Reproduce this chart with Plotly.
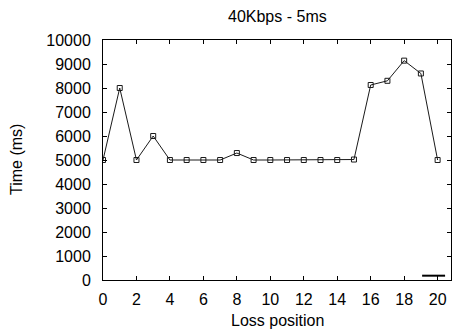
import plotly.graph_objects as go

loss_position = list(range(21))
time_ms = [5000, 8000, 5000, 6000, 5000, 5000, 5000, 5000, 5290, 5000, 5000,
           5000, 5000, 5000, 5000, 5020, 8125, 8300, 9140, 8605, 5000]

title_text = "40Kbps - 5ms"
x_title = "Loss position"
y_title = "Time (ms)"

FONT = "Liberation Sans, Arial, sans-serif"
FS = 16

fig = go.Figure()
fig.add_trace(go.Scatter(
    x=loss_position, y=time_ms, mode="lines+markers",
    line=dict(color="#1a1a1a", width=1),
    marker=dict(symbol="square-open", size=5, color="#1a1a1a", line=dict(width=1)),
    showlegend=False, hoverinfo="skip"))

axis_common = dict(
    showline=True, linecolor="black", linewidth=1, mirror="ticks",
    ticks="inside", ticklen=4, tickcolor="black", tickwidth=1,
    showgrid=False, zeroline=False,
    tickfont=dict(family=FONT, size=FS, color="black"),
)

fig.update_xaxes(range=[0, 20.8], tick0=0, dtick=2, ticklabelstandoff=5, **axis_common)
fig.update_yaxes(range=[0, 10000], tick0=0, dtick=1000, tickformat="d",
                 ticklabelstandoff=8, **axis_common)

# legend key sample (gnuplot style, empty title)
fig.add_shape(type="line", xref="paper", yref="paper",
              x0=0.917, x1=0.983, y0=0.018, y1=0.018,
              line=dict(color="black", width=2))

fig.add_annotation(text=title_text, xref="paper", yref="paper", x=0.5, y=1,
                   yshift=24, xanchor="center", yanchor="middle", showarrow=False,
                   font=dict(family=FONT, size=FS, color="black"))
fig.add_annotation(text=x_title, xref="paper", yref="paper", x=0.5, y=0,
                   yshift=-40, xanchor="center", yanchor="middle", showarrow=False,
                   font=dict(family=FONT, size=FS, color="black"))
fig.add_annotation(text=y_title, xref="paper", yref="paper", x=0, y=0.5,
                   xshift=-87, xanchor="center", yanchor="middle", showarrow=False,
                   textangle=-90, font=dict(family=FONT, size=FS, color="black"))

fig.update_layout(
    width=456, height=335,
    margin=dict(l=103, r=5, t=40, b=55),
    paper_bgcolor="white", plot_bgcolor="white",
)

fig.write_html("out.html")
